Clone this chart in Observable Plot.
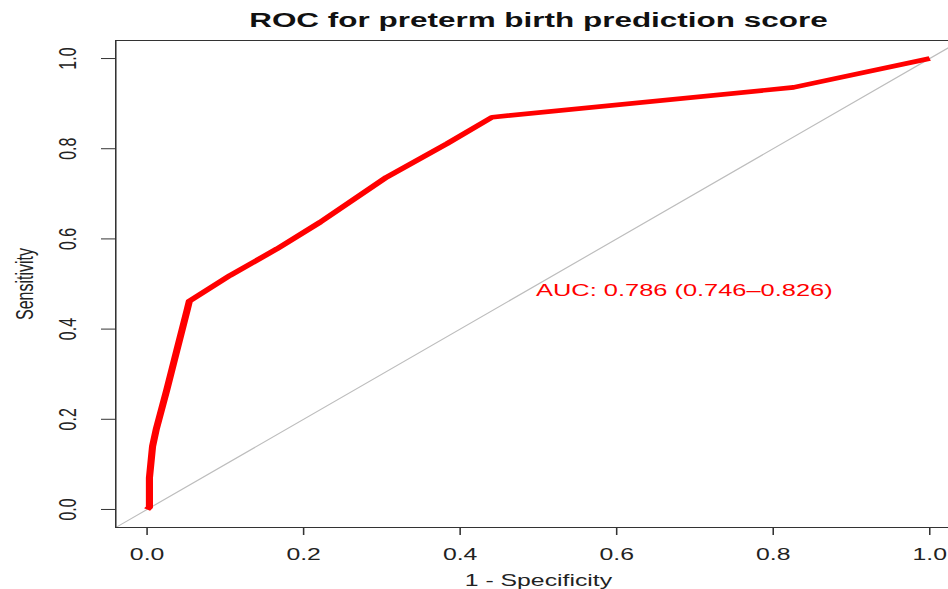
<!DOCTYPE html>
<html><head><meta charset="utf-8">
<script src="https://cdn.jsdelivr.net/npm/d3@7"></script>
<script src="https://cdn.jsdelivr.net/npm/@observablehq/plot@0.6"></script>
<style>
body{margin:0;background:#fff}
#chart svg{font-family:"Liberation Sans",Arial,Helvetica,sans-serif}
</style>
</head><body><div id="chart"></div>
<script>
// ROC curve points (1 - specificity, sensitivity)
const fpr = [0, 0.003, 0.003, 0.007, 0.012, 0.025, 0.038, 0.051, 0.054, 0.106, 0.166, 0.221, 0.306, 0.383, 0.441, 0.826, 1.0];
const tpr = [0, 0.005, 0.07, 0.14, 0.18, 0.264, 0.353, 0.441, 0.462, 0.519, 0.578, 0.637, 0.737, 0.811, 0.870, 0.936, 1.0];
const xTicks = [0, 0.2, 0.4, 0.6, 0.8, 1.0];
const yTicks = [0, 0.2, 0.4, 0.6, 0.8, 1.0];
const tickLabels = ["0.0", "0.2", "0.4", "0.6", "0.8", "1.0"];
const titleText = "ROC for preterm birth prediction score";
const xLabel = "1 - Specificity";
const yLabel = "Sensitivity";
const aucLabel = "AUC: 0.786 (0.746\u20130.826)";
const aucPos = [0.497, 0.5];

const roc = fpr.map((x, i) => ({x, y: tpr[i]}));
const xDom = [-0.04, 1.0243];
const yDom = [-0.04, 1.04];
const diag = [{x: xDom[0], y: xDom[0]}, {x: xDom[1], y: xDom[1]}];

const S = 1.55;           // horizontal stretch of the reference picture
const W = 948, H = 589;
const LW = W / S;
const fs = 16;
const axisColor = "#333";

const plot = Plot.plot({
  width: LW, height: H,
  marginLeft: 115 / S, marginRight: 0, marginTop: 40, marginBottom: 62,
  style: {background: "#fff", color: "#222", fontSize: fs + "px"},
  x: {domain: xDom, axis: null},
  y: {domain: yDom, axis: null},
  marks: [
    Plot.line(diag, {x: "x", y: "y", stroke: "#bdbdbd", strokeWidth: 1}),
    Plot.line(roc, {x: "x", y: "y", stroke: "#ff0000", strokeWidth: 4.6, strokeLinejoin: "round", strokeLinecap: "butt"}),
    Plot.ruleY([yDom[0], yDom[1]], {stroke: axisColor, strokeWidth: 1}),
    Plot.ruleX([xDom[0]], {stroke: axisColor, strokeWidth: 1}),
    Plot.axisX({ticks: xTicks, tickFormat: (d, i) => tickLabels[i], tickSize: 8, tickPadding: 13, fontSize: fs, label: null, stroke: axisColor}),
    Plot.axisY({ticks: yTicks, tickFormat: () => "", tickSize: 14 / S, label: null, stroke: axisColor}),
    Plot.text(yTicks, {x: xDom[0], y: d => d, text: (d, i) => tickLabels[i], rotate: -90, dx: (67 - 115) / S, fontSize: fs, fill: "#222"}),
    Plot.text([yLabel], {x: xDom[0], y: 0.5, text: d => d, rotate: -90, dx: (24 - 115) / S, fontSize: fs, fill: "#222"}),
    Plot.text([xLabel], {x: 0.5, y: yDom[0], text: d => d, dy: 53, fontSize: fs, fill: "#222"}),
    Plot.text([titleText], {x: 0.5, y: yDom[1], text: d => d, dy: -20, fontSize: 20.3, fontWeight: "bold", fill: "#111"}),
    Plot.text([aucLabel], {x: aucPos[0], y: aucPos[1], text: d => d, textAnchor: "start", lineAnchor: "top", fontSize: 16.4, fill: "#ff0000"})
  ]
});

plot.setAttribute("width", W);
plot.setAttribute("height", H);
plot.setAttribute("preserveAspectRatio", "none");
plot.style.maxWidth = "none";
plot.style.width = W + "px";
plot.style.height = H + "px";
document.getElementById("chart").appendChild(plot);
</script>
</body></html>
